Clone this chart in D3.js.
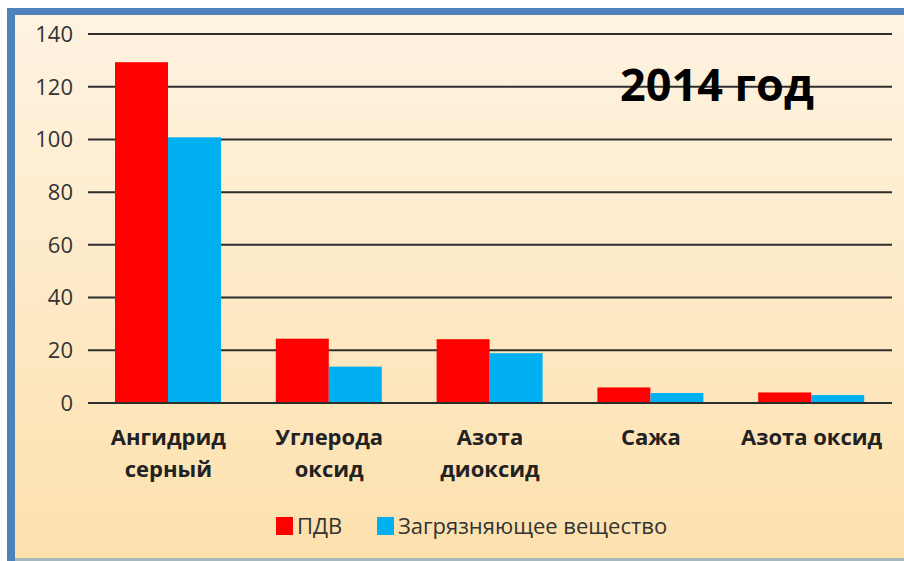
<!DOCTYPE html>
<html>
<head>
<meta charset="utf-8">
<script src="https://cdn.jsdelivr.net/npm/d3@7"></script>
<style>
  body { margin: 0; background: #fff; }
  text { font-family: "Open Sans", sans-serif; }
</style>
</head>
<body>
<div class="visualization"></div>
<script>
// data
const categories = [["Ангидрид", "серный"], ["Углерода", "оксид"], ["Азота", "диоксид"], ["Сажа"], ["Азота оксид"]];
const seriesNames = ["ПДВ", "Загрязняющее вещество"];
const pdv = [129.3, 24.4, 24.2, 5.9, 4.0];
const pollutant = [100.8, 13.8, 18.9, 3.8, 3.0];
const yTicks = [0, 20, 40, 60, 80, 100, 120, 140];
const colors = ["#ff0000", "#00b0f0"];

const width = 904;
const height = 561;

const svg = d3.select(".visualization")
    .append("svg")
    .attr("width", width)
    .attr("height", height);

// background gradient
const grad = svg.append("defs").append("linearGradient")
    .attr("id", "bg")
    .attr("x1", 0).attr("y1", 0).attr("x2", 0).attr("y2", 1);
grad.append("stop").attr("offset", "0%").attr("stop-color", "#fef3e2");
grad.append("stop").attr("offset", "100%").attr("stop-color", "#fde1ad");

svg.append("rect")
    .attr("x", 7).attr("y", 8)
    .attr("width", width - 7).attr("height", height - 8)
    .attr("fill", "url(#bg)");

// frame: blue top and left, thin grey bottom
svg.append("rect").attr("x", 7).attr("y", 8).attr("width", width - 7).attr("height", 7).attr("fill", "#4f81bd");
svg.append("rect").attr("x", 7).attr("y", 8).attr("width", 8).attr("height", height - 8).attr("fill", "#4f81bd");
svg.append("rect").attr("x", 15).attr("y", 558).attr("width", width - 15).attr("height", 3).attr("fill", "#a9b8bd");

const x0 = d3.scaleBand()
    .domain(d3.range(categories.length))
    .range([88, 892]);

const x1 = d3.scaleBand()
    .domain([0, 1])
    .range([27, 133]);

const y = d3.scaleLinear()
    .domain([0, 140])
    .range([403, 34]);

// gridlines
svg.append("g")
    .selectAll("line")
    .data(yTicks)
    .enter()
    .append("line")
    .attr("x1", 88).attr("x2", 892)
    .attr("y1", d => y(d)).attr("y2", d => y(d))
    .attr("stroke", "#2e2e2e")
    .attr("stroke-width", 2);

// y labels
svg.append("g")
    .selectAll("text")
    .data(yTicks)
    .enter()
    .append("text")
    .attr("x", 73)
    .attr("y", d => y(d))
    .attr("dy", "0.36em")
    .attr("text-anchor", "end")
    .style("font-size", "22px")
    .attr("fill", "#333")
    .text(d => d);

// title
svg.append("text")
    .attr("x", 620)
    .attr("y", 101)
    .style("font-size", "45px")
    .style("font-weight", "bold")
    .attr("fill", "#000")
    .text("2014 год");

// bars
const values = [pdv, pollutant];
const group = svg.append("g")
    .selectAll("g")
    .data(categories)
    .enter()
    .append("g")
    .attr("transform", (d, i) => `translate(${x0(i)},0)`);

group.selectAll("rect")
    .data((d, i) => values.map((v, s) => ({ s: s, v: v[i] })))
    .enter()
    .append("rect")
    .attr("x", d => x1(d.s))
    .attr("width", x1.bandwidth())
    .attr("y", d => y(d.v))
    .attr("height", d => y(0) - y(d.v))
    .attr("fill", d => colors[d.s]);

// redraw zero line over bars
svg.append("line")
    .attr("x1", 88).attr("x2", 892)
    .attr("y1", y(0)).attr("y2", y(0))
    .attr("stroke", "#2e2e2e")
    .attr("stroke-width", 2);

// category labels
group.append("text")
    .attr("text-anchor", "middle")
    .style("font-size", "22px")
    .style("font-weight", "bold")
    .attr("fill", "#222")
    .selectAll("tspan")
    .data(d => d)
    .enter()
    .append("tspan")
    .attr("x", x0.bandwidth() / 2)
    .attr("y", (d, i) => 445 + i * 32)
    .text(d => d);

// legend
const legendX = [276, 377];
const legendItem = svg.append("g")
    .selectAll("g")
    .data(seriesNames)
    .enter()
    .append("g")
    .attr("transform", (d, i) => `translate(${legendX[i]},517)`);

legendItem.append("rect")
    .attr("width", 17)
    .attr("height", 18)
    .attr("fill", (d, i) => colors[i]);

legendItem.append("text")
    .attr("x", 21)
    .attr("y", 17)
    .style("font-size", "22px")
    .attr("fill", "#333")
    .text(d => d);
</script>
</body>
</html>
